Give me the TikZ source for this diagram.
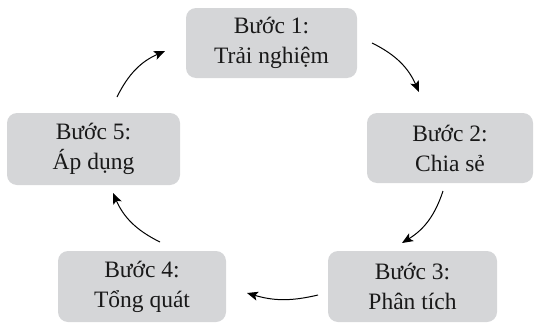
\documentclass[tikz,border=0pt]{standalone}
\usepackage{fontspec}
\setmainfont{Liberation Serif}
\usetikzlibrary{arrows.meta}
\definecolor{boxgray}{HTML}{D5D6D8}
\tikzset{
  stepbox/.style={fill=boxgray, draw=none, rounded corners=10pt, align=center,
    inner sep=0pt, font=\fontsize{23.5}{30}\selectfont, text=black!90},
  cyc/.style={line width=1pt, -{Stealth[length=11pt,width=9pt,inset=2.5pt]}, bend left=#1},
}
\begin{document}
\begin{tikzpicture}[x=1pt,y=-1pt]
\useasboundingbox (0,0) rectangle (535,324);
\node[stepbox, minimum width=171pt, minimum height=70pt] (b1) at (271.5,43) {Bước 1:\\Trải nghiệm};
\node[stepbox, minimum width=166pt, minimum height=70pt] (b2) at (450,148) {Bước 2:\\Chia sẻ};
\node[stepbox, minimum width=169pt, minimum height=71pt] (b3) at (412.5,286.5) {Bước 3:\\Phân tích};
\node[stepbox, minimum width=168pt, minimum height=71pt] (b4) at (142,286.5) {Bước 4:\\Tổng quát};
\node[stepbox, minimum width=173pt, minimum height=72pt] (b5) at (93.5,149) {Bước 5:\\Áp dụng};
\coordinate (a1s) at (372,43);  \coordinate (a1e) at (419,92);
\coordinate (a2s) at (443,191); \coordinate (a2e) at (402,243);
\coordinate (a3s) at (318,295); \coordinate (a3e) at (247,293);
\coordinate (a4s) at (160,242); \coordinate (a4e) at (113,193);
\coordinate (a5s) at (117,97);  \coordinate (a5e) at (165,51);
\draw[cyc=20] (a1s) to (a1e);
\draw[cyc=20] (a2s) to (a2e);
\draw[cyc=15] (a3s) to (a3e);
\draw[cyc=20] (a4s) to (a4e);
\draw[cyc=20] (a5s) to (a5e);
\end{tikzpicture}
\end{document}
